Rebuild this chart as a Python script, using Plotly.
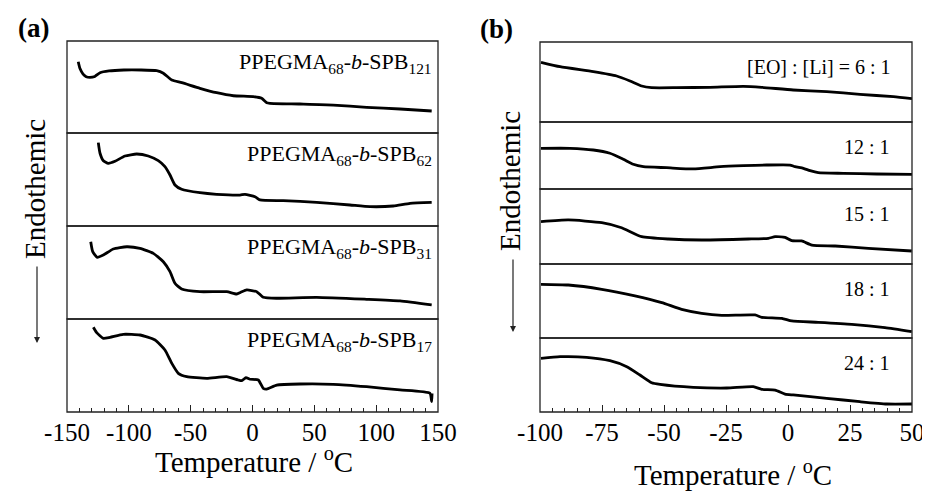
import plotly.graph_objects as go

# ---------------- data: panel (a) ----------------
T_a121 = [-140.9, -139.5, -137.0, -134.5, -131.5, -127.5, -123.3, -116.0, -104.0, -90.0, -77.5, -72.1, -65.3, -57.2, -42.5, -29.0, -15.5, 0.6, 7.4, 11.5, 14.1, 38.4, 65.3, 92.3, 119.3, 144.9]
H_a121 = [0.775, 0.70, 0.64, 0.612, 0.605, 0.615, 0.655, 0.675, 0.685, 0.685, 0.677, 0.650, 0.576, 0.547, 0.486, 0.438, 0.405, 0.395, 0.377, 0.329, 0.323, 0.315, 0.304, 0.279, 0.261, 0.239]

T_a62 = [-124.7, -123.3, -120.6, -116.6, -111.2, -103.1, -93.6, -84.3, -76.2, -70.8, -66.7, -62.7, -57.3, -42.5, -29.0, -10.1, -6.1, 2.0, 6.1, 24.9, 51.9, 78.8, 95.0, 113.8, 127.4, 144.9]
H_a62 = [0.896, 0.782, 0.702, 0.674, 0.696, 0.753, 0.774, 0.753, 0.702, 0.638, 0.548, 0.441, 0.395, 0.358, 0.341, 0.333, 0.341, 0.315, 0.280, 0.272, 0.255, 0.226, 0.208, 0.215, 0.244, 0.255]

T_a31 = [-130.8, -129.2, -125.5, -120.6, -112.6, -101.7, -91.0, -80.2, -72.1, -66.7, -62.7, -57.3, -42.5, -20.9, -12.8, -9.5, -4.7, 3.4, 8.7, 19.6, 51.9, 92.3, 119.3, 144.9]
H_a31 = [0.831, 0.724, 0.663, 0.688, 0.753, 0.777, 0.760, 0.706, 0.616, 0.509, 0.384, 0.323, 0.294, 0.294, 0.269, 0.287, 0.312, 0.294, 0.233, 0.223, 0.233, 0.212, 0.194, 0.151]

T_a17 = [-128.7, -126.0, -120.6, -115.2, -104.5, -91.0, -78.8, -70.8, -65.3, -60.0, -53.2, -37.0, -20.9, -11.5, -8.7, -5.3, -2.0, 4.7, 8.7, 11.5, 19.6, 38.4, 65.3, 92.3, 119.3, 143.5, 144.9, 145.2]
H_a17 = [0.911, 0.853, 0.792, 0.803, 0.835, 0.828, 0.774, 0.667, 0.524, 0.416, 0.380, 0.362, 0.380, 0.344, 0.337, 0.369, 0.352, 0.344, 0.255, 0.247, 0.290, 0.301, 0.298, 0.272, 0.237, 0.201, 0.111, 0.20]

# ---------------- data: panel (b) ----------------
T_b6 = [-99.6, -91.9, -78.5, -69.1, -63.7, -59.0, -55.0, -44.9, -31.5, -18.0, -10.6, 2.1, 15.6, 29.0, 42.5, 50.0]
H_b6 = [0.746, 0.691, 0.629, 0.575, 0.513, 0.450, 0.429, 0.429, 0.434, 0.446, 0.434, 0.400, 0.379, 0.346, 0.316, 0.291]

T_b12 = [-99.6, -87.9, -78.5, -71.8, -66.4, -62.4, -58.3, -48.9, -38.2, -27.4, -18.0, -8.6, 0.8, 2.8, 6.2, 8.9, 12.2, 22.3, 35.8, 50.0]
H_b12 = [0.607, 0.607, 0.582, 0.533, 0.443, 0.369, 0.333, 0.318, 0.299, 0.333, 0.348, 0.358, 0.358, 0.333, 0.309, 0.273, 0.243, 0.234, 0.224, 0.219]

T_b15 = [-99.6, -88.6, -75.1, -67.1, -59.0, -48.3, -34.8, -16.0, -7.9, -5.2, -1.2, 1.5, 5.5, 9.6, 19.0, 32.4, 49.9]
H_b15 = [0.564, 0.587, 0.551, 0.484, 0.364, 0.333, 0.320, 0.333, 0.343, 0.364, 0.356, 0.311, 0.307, 0.253, 0.240, 0.209, 0.173]

T_b18 = [-99.6, -88.6, -75.1, -61.7, -50.9, -42.9, -34.8, -26.7, -13.3, -10.6, -2.5, 1.5, 12.2, 25.7, 39.1, 49.9]
H_b18 = [0.726, 0.716, 0.658, 0.568, 0.477, 0.388, 0.334, 0.307, 0.311, 0.280, 0.266, 0.230, 0.212, 0.185, 0.139, 0.085]

T_b24 = [-99.6, -91.9, -81.2, -71.8, -65.0, -59.7, -55.0, -51.6, -38.2, -24.7, -14.0, -10.6, -5.2, -1.2, 2.1, 15.6, 29.0, 39.8, 50.0]
H_b24 = [0.726, 0.747, 0.739, 0.693, 0.612, 0.500, 0.396, 0.374, 0.334, 0.324, 0.342, 0.307, 0.297, 0.243, 0.230, 0.185, 0.139, 0.108, 0.108]

labels_a = ["PPEGMA<sub>68</sub>-<i>b</i>-SPB<sub>121</sub>",
            "PPEGMA<sub>68</sub>-<i>b</i>-SPB<sub>62</sub>",
            "PPEGMA<sub>68</sub>-<i>b</i>-SPB<sub>31</sub>",
            "PPEGMA<sub>68</sub>-<i>b</i>-SPB<sub>17</sub>"]
labels_b = ["[EO] : [Li] = 6 : 1", "12 : 1", "15 : 1", "18 : 1", "24 : 1"]

xticks_a = [-150, -100, -50, 0, 50, 100, 150]
xticklabels_a = ["-150", "-100", "-50", "0", "50", "100", "150"]
xticks_b = [-100, -75, -50, -25, 0, 25, 50]
xticklabels_b = ["-100", "-75", "-50", "-25", "0", "25", "50"]

series_a = [(T_a121, H_a121), (T_a62, H_a62), (T_a31, H_a31), (T_a17, H_a17)]
series_b = [(T_b6, H_b6), (T_b12, H_b12), (T_b15, H_b15), (T_b18, H_b18), (T_b24, H_b24)]

# ---------------- layout geometry (page has an 8px body margin) ----------------
OFF = 8
W, H = 930 - OFF, 492 - OFF
def px(v):
    return (v - OFF) / W
def py(v):
    return 1 - (v - OFF) / H

a_x = [67, 438]
a_y = [41, 133, 226, 319, 412]
b_x = [540, 912]
b_y = [42, 122, 189, 264, 338, 412]

FONT = "Liberation Serif"
fig = go.Figure()
layout = dict(
    template="none",
    width=W, height=H, margin=dict(l=0, r=0, t=0, b=0, pad=0), autosize=False,
    paper_bgcolor="white", plot_bgcolor="white", showlegend=False,
    font=dict(family=FONT, color="black"),
)
shapes = []
annotations = []

def yaxis_cfg(top, bot, anchor):
    return dict(domain=[py(bot), py(top)], range=[0, 1], showticklabels=False,
                showgrid=False, zeroline=False, showline=False, ticks="", anchor=anchor,
                automargin=False, fixedrange=True)

LINE = dict(color="black", width=2.8, shape="spline", smoothing=0.5)

# panel (a)
for i, (T, Hh) in enumerate(series_a):
    yn = i + 1
    yname = "yaxis" if yn == 1 else f"yaxis{yn}"
    layout[yname] = yaxis_cfg(a_y[i], a_y[i + 1], "x")
    yref = "y" if yn == 1 else f"y{yn}"
    fig.add_trace(go.Scatter(x=T, y=Hh, mode="lines", xaxis="x", yaxis=yref, line=LINE))
    shapes.append(dict(type="rect", xref="x domain", yref=f"{yref} domain", x0=0, x1=1, y0=0, y1=1,
                       line=dict(color="#222", width=1.3)))
    annotations.append(dict(text=labels_a[i], xref="x domain", yref=f"{yref} domain",
                            x=0.988, y=1 - 22 / (a_y[i + 1] - a_y[i]), xanchor="right", yanchor="middle",
                            showarrow=False, font=dict(size=22, family=FONT)))

layout["xaxis"] = dict(domain=[px(a_x[0]), px(a_x[1])], range=[-150, 150], anchor="y4",
                       tickmode="array", tickvals=xticks_a, ticktext=xticklabels_a,
                       ticks="inside", ticklen=7, tickcolor="#222", tickwidth=1, ticklabelstandoff=3,
                       minor=dict(dtick=10, tick0=0, ticks="inside", ticklen=4, tickcolor="#222", showgrid=False),
                       showgrid=False, zeroline=False, showline=False, automargin=False,
                       tickfont=dict(size=25, family=FONT, color="black"), fixedrange=True)

# panel (b)
for i, (T, Hh) in enumerate(series_b):
    yn = i + 5
    layout[f"yaxis{yn}"] = yaxis_cfg(b_y[i], b_y[i + 1], "x2")
    yref = f"y{yn}"
    fig.add_trace(go.Scatter(x=T, y=Hh, mode="lines", xaxis="x2", yaxis=yref, line=LINE))
    shapes.append(dict(type="rect", xref="x2 domain", yref=f"{yref} domain", x0=0, x1=1, y0=0, y1=1,
                       line=dict(color="#222", width=1.3)))
    annotations.append(dict(text=labels_b[i], xref="x2 domain", yref=f"{yref} domain",
                            x=0.947, y=1 - 25 / (b_y[i + 1] - b_y[i]), xanchor="right", yanchor="middle",
                            showarrow=False, font=dict(size=20, family=FONT)))

layout["xaxis2"] = dict(domain=[px(b_x[0]), px(b_x[1])], range=[-100, 50], anchor="y9",
                        tickmode="array", tickvals=xticks_b, ticktext=xticklabels_b,
                        ticks="inside", ticklen=7, tickcolor="#222", tickwidth=1, ticklabelstandoff=3,
                        minor=dict(dtick=5, tick0=0, ticks="inside", ticklen=4, tickcolor="#222", showgrid=False),
                        showgrid=False, zeroline=False, showline=False, automargin=False,
                        tickfont=dict(size=25, family=FONT, color="black"), fixedrange=True)

def txt(text, x, y, size, angle=0):
    return dict(text=text, xref="paper", yref="paper", x=px(x), y=py(y), xanchor="center",
                yanchor="middle", textangle=angle, showarrow=False, font=dict(size=size, family=FONT))

annotations += [
    txt("Temperature / <sup>o</sup>C", 254, 460, 29),
    txt("Temperature / <sup>o</sup>C", 733, 473, 29),
    txt("<b>(a)</b>", 33, 28, 27),
    txt("<b>(b)</b>", 496, 29, 27),
    txt("Endothemic", 35, 189, 29, -90),
    txt("Endothemic", 510, 181, 29, -90),
    dict(text="", xref="paper", yref="paper", x=px(37), y=py(343), ax=0, ay=-78,
         showarrow=True, arrowhead=2, arrowsize=1, arrowwidth=1.2, arrowcolor="#222"),
    dict(text="", xref="paper", yref="paper", x=px(513), y=py(332), ax=0, ay=-74,
         showarrow=True, arrowhead=2, arrowsize=1, arrowwidth=1.2, arrowcolor="#222"),
]

layout["shapes"] = shapes
layout["annotations"] = annotations
fig.update_layout(**layout)
fig.write_html("out.html")
